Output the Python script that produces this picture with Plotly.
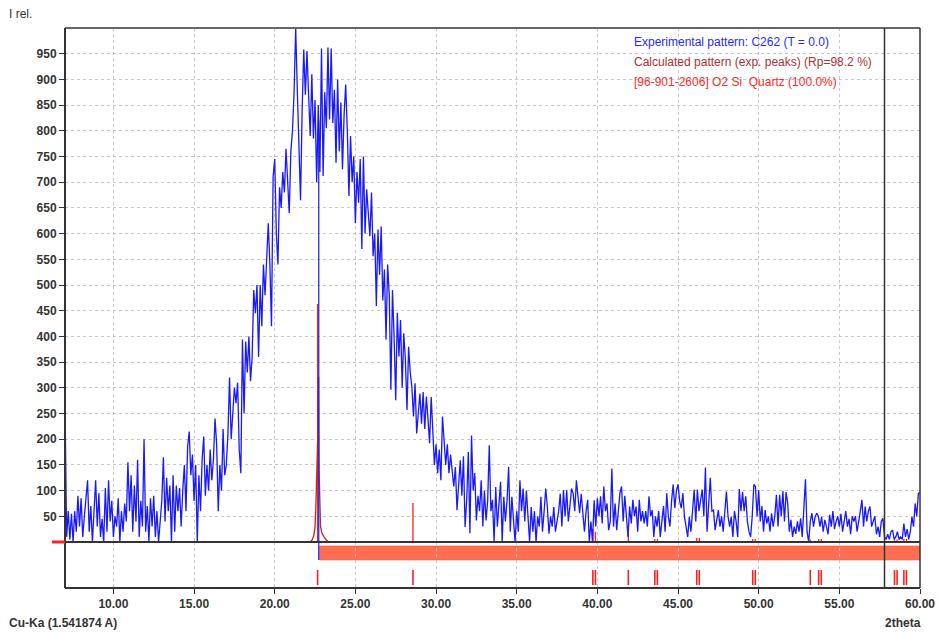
import numpy as np
import plotly.graph_objects as go

# ---------------- data ----------------
theta_start = 7.0
theta_step = 0.1
# experimental pattern, one row per degree (x.0 ... x.9), last value at 60.0
exp_intensity = [
    270, 10, 60, 5, 55, 0, 60, 20, 90, 30,          # 7
    85, 10, 50, 90, 120, 20, 70, 0, 60, 120,        # 8
    30, 95, 10, 45, 0, 105, 20, 120, 40, 80,        # 9
    10, 50, 30, 85, 0, 60, 20, 75, 40, 155,         # 10
    60, 130, 20, 110, 40, 160, 10, 80, 30, 200,     # 11
    20, 70, 0, 85, 30, 90, 10, 60, 0, 50,           # 12
    80, 165, 40, 125, 60, 110, 0, 130, 20, 110,     # 13
    60, 105, 30, 100, 150, 60, 185, 215, 130, 170,  # 14
    80, 150, 0, 130, 60, 160, 205, 90, 150, 100,    # 15
    180, 120, 160, 240, 190, 60, 150, 100, 220, 130,  # 16
    150, 210, 320, 200, 250, 300, 270, 310, 180, 134,  # 17
    394, 250, 390, 330, 400, 313, 360, 490, 445, 500,  # 18
    360, 500, 420, 540, 480, 570, 620, 540, 420, 710,  # 19
    745, 600, 540, 690, 650, 720, 680, 765, 705, 640,  # 20
    760, 800, 875, 1000, 880, 790, 665, 840, 958, 870,  # 21
    955, 870, 790, 910, 785, 860, 700, 850, 720, 960,  # 22
    712, 875, 805, 962, 822, 960, 815, 880, 738, 900,  # 23
    760, 855, 725, 830, 890, 800, 673, 790, 700, 750,  # 24
    620, 720, 660, 745, 570, 750, 600, 686, 640, 595,  # 25
    680, 556, 600, 459, 608, 520, 614, 470, 530, 394,  # 26
    540, 480, 296, 490, 400, 276, 446, 361, 432, 300,  # 27
    406, 354, 257, 380, 330, 302, 244, 309, 211, 260,  # 28
    289, 230, 292, 220, 283, 240, 192, 282, 198, 150,  # 29
    190, 134, 180, 120, 244, 198, 150, 190, 134, 170,  # 30
    134, 108, 146, 62, 110, 159, 90, 167, 29, 82,   # 31
    175, 17, 207, 100, 134, 42, 90, 60, 120, 30,    # 32
    100, 42, 80, 188, 60, 82, 0, 107, 30, 70,       # 33
    117, 0, 88, 40, 80, 146, 20, 88, 49, 0,         # 34
    60, 20, 120, 60, 104, 40, 100, 55, 0, 68,       # 35
    20, 60, 0, 50, 30, 88, 20, 60, 104, 68,         # 36
    16, 50, 30, 68, 20, 40, 60, 94, 30, 101,        # 37
    50, 101, 40, 70, 104, 94, 60, 120, 80, 56,      # 38
    94, 62, 20, 60, 82, 0, 40, 0, 81, 30,           # 39
    85, 50, 89, 36, 108, 60, 75, 23, 40, 143,       # 40
    30, 75, 23, 60, 95, 108, 40, 90, 50, 10,        # 41
    69, 36, 82, 50, 69, 20, 82, 40, 60, 36,         # 42
    60, 30, 89, 50, 62, 10, 50, 30, 60, 10,         # 43
    40, 70, 20, 95, 50, 30, 80, 112, 66, 100,       # 44
    112, 80, 66, 95, 49, 30, 10, 49, 20, 60,        # 45
    102, 40, 102, 60, 80, 102, 50, 145, 20, 80,     # 46
    125, 60, 62, 23, 40, 62, 30, 50, 20, 60,        # 47
    98, 50, 30, 49, 10, 60, 40, 10, 103, 60,        # 48
    97, 60, 89, 40, 20, 10, 50, 112, 108, 50,       # 49
    101, 40, 70, 20, 62, 36, 50, 20, 56, 30,        # 50
    50, 92, 30, 92, 50, 99, 40, 97, 75, 20,         # 51
    43, 10, 30, 16, 40, 20, 46, 10, 60, 122,        # 52
    20, 0, 40, 56, 30, 49, 56, 50, 30, 49,          # 53
    20, 43, 30, 15, 53, 30, 60, 25, 40, 50,         # 54
    30, 55, 20, 40, 60, 30, 45, 15, 50, 40,         # 55
    50, 20, 45, 60, 82, 30, 69, 40, 60, 69,         # 56
    30, 40, 50, 15, 30, 10, 40, 46, 10, 5,          # 57
    15, 5, 20, 23, 5, 10, 20, 5, 10, 5,             # 58
    36, 10, 25, 5, 20, 49, 30, 75, 50, 95,          # 59
    96,                                             # 60.0
]
exp_theta = np.round(theta_start + theta_step * np.arange(len(exp_intensity)), 2)

# calculated pattern (exp. peaks)
calc_theta = [22.20, 22.32, 22.42, 22.50, 22.56, 22.60, 22.63, 22.66, 22.69, 22.72,
              22.75, 22.79, 22.84, 22.92, 23.05, 23.20, 23.35]
calc_intensity = [0, 4, 12, 30, 78, 140, 183, 200, 320, 320, 140, 70, 30, 18, 10, 4, 0]

# Quartz peak markers
quartz_pos = [22.66, 28.57, 39.72, 39.88, 41.92, 43.56, 43.72, 46.16, 46.32,
              49.63, 49.79, 53.20, 53.72, 53.88, 58.42, 58.58, 59.00, 59.16]
quartz_int = [463, 76, 25, 20, 16, 6, 6, 8, 8, 6, 6, 5, 6, 6, 5, 5, 6, 6]

x_ticks = [10, 15, 20, 25, 30, 35, 40, 45, 50, 55, 60]
x_ticklabels = ["10.00", "15.00", "20.00", "25.00", "30.00", "35.00",
                "40.00", "45.00", "50.00", "55.00", "60.00"]
y_ticks = list(range(50, 1000, 50))

phase_bar_start = 22.78
cursor_theta = 22.73
marker_line_theta = 57.8

# ---------------- figure ----------------
W, H = 938, 632
ml, mr, mt, mb = 65, 18, 28, 44
plot_w = W - ml - mr
plot_h = H - mt - mb           # 560
lower_px = 46
split = lower_px / plot_h      # paper fraction of the lower strip

BLUE = "rgb(25,25,255)"
CALC = "#b32b2b"
RED = "#ff1f1f"
ORANGE = "#ff6e50"

fig = go.Figure()

# quartz sticks in main panel
sx, sy = [], []
for p, v in zip(quartz_pos, quartz_int):
    sx += [p, p, None]
    sy += [0, v, None]
fig.add_trace(go.Scatter(x=sx, y=sy, mode="lines", line=dict(color=RED, width=1.3),
                         hoverinfo="skip", showlegend=False))

# calculated pattern
fig.add_trace(go.Scatter(x=calc_theta, y=calc_intensity, mode="lines",
                         line=dict(color=CALC, width=1.3), showlegend=False))

# experimental pattern
fig.add_trace(go.Scatter(x=exp_theta, y=exp_intensity, mode="lines",
                         line=dict(color=BLUE, width=1.3), showlegend=False))

# lower panel peak markers
lx, ly = [], []
for p in quartz_pos:
    lx += [p, p, None]
    ly += [3, 18, None]
fig.add_trace(go.Scatter(x=lx, y=ly, mode="lines", line=dict(color=RED, width=1.6),
                         yaxis="y2", hoverinfo="skip", showlegend=False))

shapes = []
# phase bar in lower panel
shapes.append(dict(type="rect", xref="x", yref="y2", x0=phase_bar_start, x1=60,
                   y0=28, y1=42, fillcolor=ORANGE, line=dict(color="#f05a3c", width=0.6),
                   layer="below"))
# cursor line
shapes.append(dict(type="line", xref="x", yref="paper", x0=cursor_theta, x1=cursor_theta,
                   y0=0.05, y1=split + 0.82 * (1 - split), line=dict(color=BLUE, width=1.2)))
# frame
shapes.append(dict(type="line", xref="paper", yref="paper", x0=0, x1=1, y0=1, y1=1,
                   line=dict(color="#666666", width=2)))
shapes.append(dict(type="line", xref="paper", yref="paper", x0=0, x1=0, y0=0, y1=1,
                   line=dict(color="#333333", width=2)))
shapes.append(dict(type="line", xref="paper", yref="paper", x0=0, x1=1, y0=0, y1=0,
                   line=dict(color="#333333", width=2)))
shapes.append(dict(type="line", xref="paper", yref="paper", x0=1, x1=1, y0=0, y1=1,
                   line=dict(color="#333333", width=1.5)))
shapes.append(dict(type="line", xref="paper", yref="paper", x0=0, x1=1, y0=split, y1=split,
                   line=dict(color="#333333", width=2)))
shapes.append(dict(type="line", xref="x", yref="paper", x0=marker_line_theta, x1=marker_line_theta,
                   y0=0, y1=1, line=dict(color="#333333", width=1.5)))
# red marker left of the axis at zero
shapes.append(dict(type="line", xref="paper", yref="paper", x0=-13 / plot_w, x1=0,
                   y0=split, y1=split, line=dict(color=RED, width=3)))

font_fam = "Arial, Liberation Sans, sans-serif"
annotations = [
    dict(text="I rel.", xref="paper", yref="paper", x=-58 / plot_w, y=(plot_h + 14) / plot_h,
         xanchor="left", yanchor="middle", showarrow=False,
         font=dict(family=font_fam, size=12, color="#333333")),
    dict(text="Cu-Ka (1.541874 A)", xref="paper", yref="paper", x=-58 / plot_w,
         y=-35 / plot_h, xanchor="left", yanchor="middle", showarrow=False,
         font=dict(family=font_fam, size=12, color="#333333", weight="bold")),
    dict(text="2theta", xref="paper", yref="paper", x=(903 - ml) / plot_w,
         y=-35 / plot_h, xanchor="center", yanchor="middle", showarrow=False,
         font=dict(family=font_fam, size=12, color="#333333", weight="bold")),
    dict(text="Experimental pattern: C262 (T = 0.0)", xref="paper", yref="paper",
         x=(632 - ml) / plot_w, y=(plot_h - 13.5) / plot_h, xanchor="left", yanchor="middle",
         showarrow=False, font=dict(family=font_fam, size=12, color="#2a2aff")),
    dict(text="Calculated pattern (exp. peaks) (Rp=98.2 %)", xref="paper", yref="paper",
         x=(632 - ml) / plot_w, y=(plot_h - 33.5) / plot_h, xanchor="left", yanchor="middle",
         showarrow=False, font=dict(family=font_fam, size=12, color="#b03030")),
    dict(text="[96-901-2606] O2 Si  Quartz (100.0%)", xref="paper", yref="paper",
         x=(632 - ml) / plot_w, y=(plot_h - 53.5) / plot_h, xanchor="left", yanchor="middle",
         showarrow=False, font=dict(family=font_fam, size=12, color="#ff2a2a")),
]

fig.update_layout(
    width=W, height=H,
    margin=dict(l=ml, r=mr, t=mt, b=mb, autoexpand=False),
    paper_bgcolor="white", plot_bgcolor="white",
    showlegend=False,
    xaxis=dict(range=[7.0, 60.0], anchor="y2", tickvals=x_ticks, ticktext=x_ticklabels,
               ticks="outside", ticklen=5, tickcolor="#333333", tickwidth=1,
               showgrid=True, gridcolor="#c8c8c8", griddash="dot", gridwidth=1,
               zeroline=False, showline=False, automargin=False,
               tickfont=dict(family=font_fam, size=12, color="#333333", weight="bold")),
    yaxis=dict(domain=[split, 1], range=[0, 1000], tickvals=y_ticks,
               ticks="outside", ticklen=5, tickcolor="#333333", tickwidth=1,
               showgrid=True, gridcolor="#c8c8c8", griddash="dot", gridwidth=1,
               zeroline=False, showline=False, anchor="x", automargin=False,
               tickfont=dict(family=font_fam, size=12, color="#333333", weight="bold")),
    yaxis2=dict(domain=[0, split], range=[0, lower_px], showticklabels=False, ticks="",
                showgrid=False, zeroline=False, showline=False, anchor="x", automargin=False),
    shapes=shapes,
    annotations=annotations,
)

fig.write_html(
    "out.html",
    config={"displayModeBar": False},
    post_script="document.body.style.margin='0px';document.body.style.overflow='hidden';",
)
